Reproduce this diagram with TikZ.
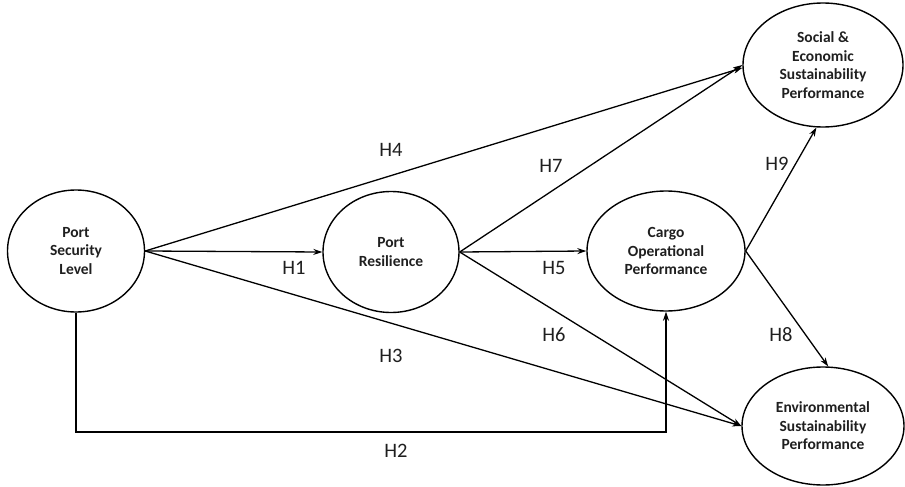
\documentclass[tikz,border=0pt]{standalone}
\usepackage{fontspec}
\setmainfont{Carlito}
\usetikzlibrary{shapes.geometric,arrows.meta}
\begin{document}
\begin{tikzpicture}[x=1pt,y=-1pt,
  construct/.style={ellipse,draw,line width=1.4pt,inner sep=0pt,align=center,
    font=\fontsize{15.5}{18.5}\selectfont\bfseries,text=black!88},
  arr/.style={-{Stealth[length=9pt,width=6pt]},line width=1.3pt},
  hlab/.style={font=\fontsize{20.5}{24}\selectfont,text=black!88}]
\useasboundingbox (0,0) rectangle (905,487);
\node[construct,minimum width=137pt,minimum height=122pt] (psl) at (76,251) {Port\\Security\\Level};
\node[construct,minimum width=136pt,minimum height=121pt] (pr) at (391,252) {Port\\Resilience};
\node[construct,minimum width=158pt,minimum height=120pt] (cop) at (666,251) {Cargo\\Operational\\Performance};
\node[construct,minimum width=160pt,minimum height=124pt] (soc) at (823,65) {Social \&\\Economic\\Sustainability\\Performance};
\node[construct,minimum width=162pt,minimum height=118pt] (env) at (823,426) {Environmental\\Sustainability\\Performance};
\draw[arr] (psl.east) -- (soc.182);
\draw[arr] (psl.east) -- (pr.west);
\draw[arr] (psl.east) -- (env.180);
\draw[arr] (psl.south) -- (psl.south |- 0,432) -| (cop.south);
\draw[arr] (pr.east) -- (cop.west);
\draw[arr] (pr.east) -- (env.180);
\draw[arr] (pr.east) -- (soc.180);
\draw[arr] (cop.east) -- (soc.264);
\draw[arr] (cop.east) -- (env.85);
\node[hlab] (l4) at (391,150) {H4};
\node[hlab] (l7) at (551,166) {H7};
\node[hlab] (l9) at (777,164) {H9};
\node[hlab] (l1) at (294,268) {H1};
\node[hlab] (l5) at (554,268) {H5};
\node[hlab] (l6) at (554,335) {H6};
\node[hlab] (l3) at (391,356) {H3};
\node[hlab] (l8) at (781,335) {H8};
\node[hlab] (l2) at (396,451) {H2};
\end{tikzpicture}
\end{document}
